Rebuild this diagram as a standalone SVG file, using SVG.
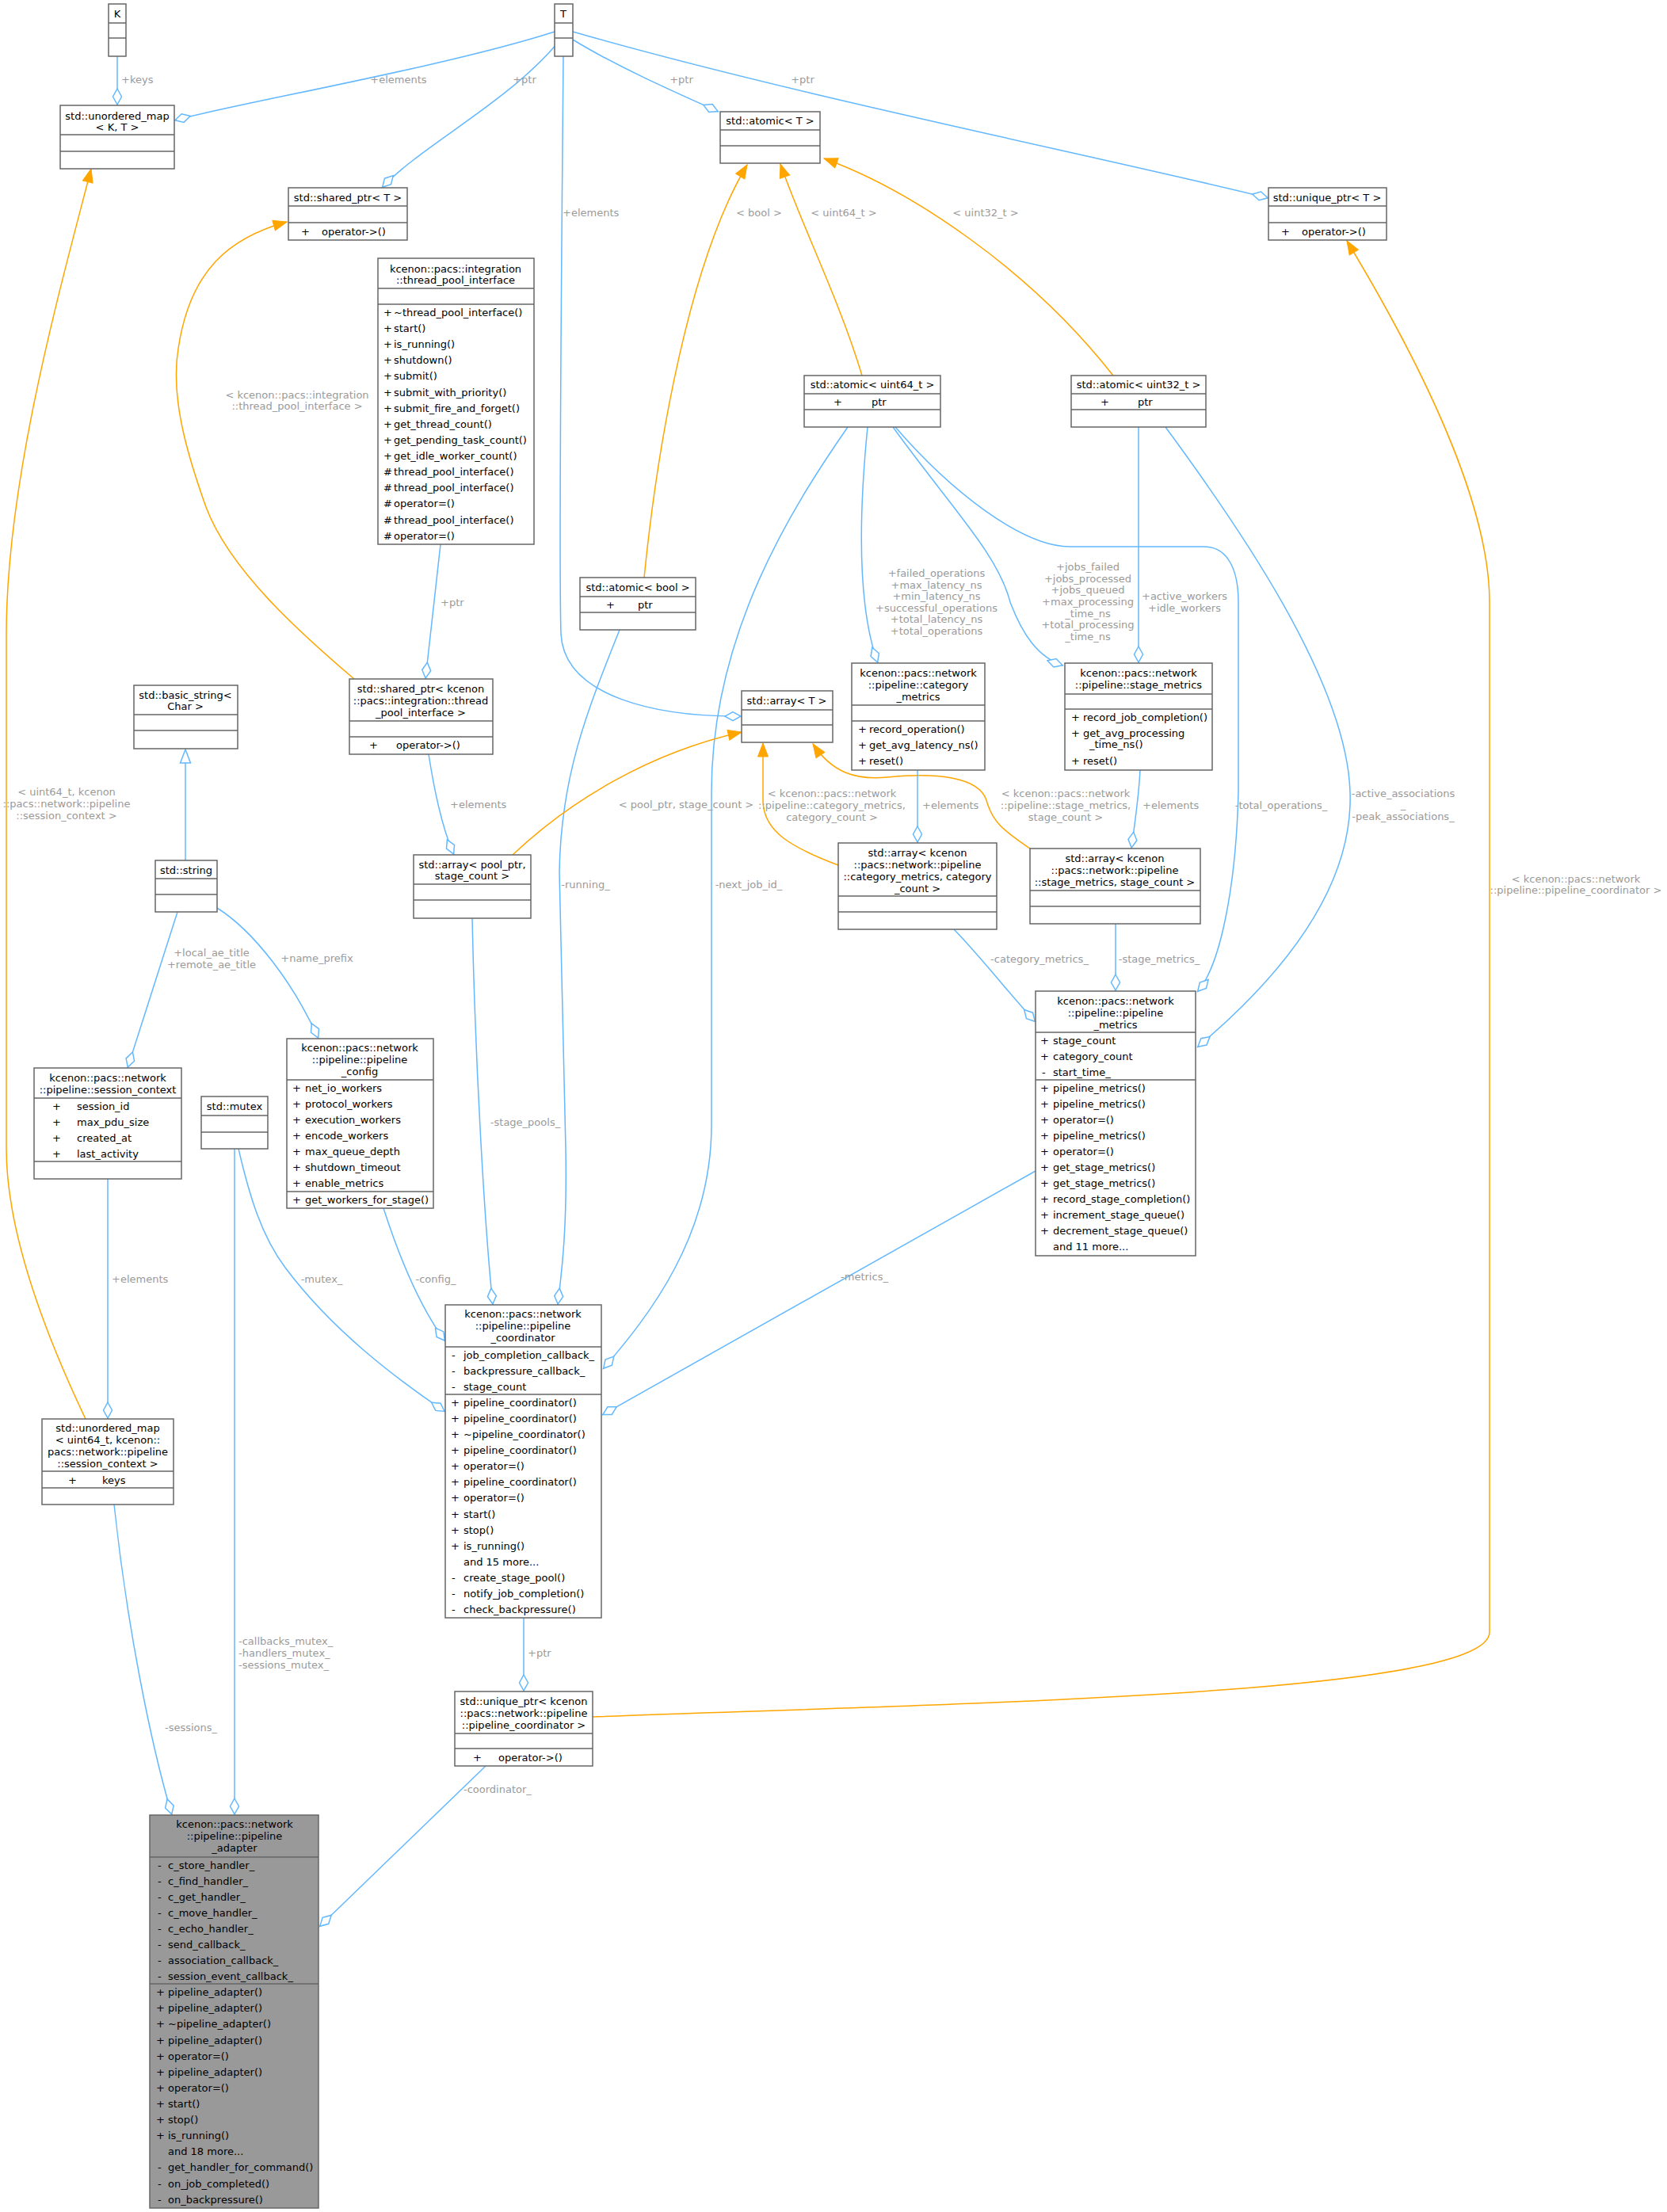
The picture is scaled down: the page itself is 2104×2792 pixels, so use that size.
<svg xmlns="http://www.w3.org/2000/svg" width="2104" height="2792" viewBox="0 0 2104 2792">
<style>
text{font-family:"DejaVu Sans","Liberation Sans",sans-serif;font-size:13px;fill:#000}
.c{text-anchor:middle}
.l{fill:#9a9a9a}
.b{fill:#fff;stroke:#666;stroke-width:1.5}
.g{fill:#999;stroke:#666;stroke-width:1.5}
.d{stroke:#666;stroke-width:1.5}
.e{fill:none;stroke:#63b8ff;stroke-width:1.5}
.o{fill:none;stroke:#ffa500;stroke-width:1.5}
.ag{marker-end:url(#dia)}
.ar{marker-end:url(#tri)}
.ih{marker-end:url(#htri)}
</style>
<defs>
<marker id="dia" markerUnits="userSpaceOnUse" viewBox="-1 -7 23 14" refX="21" refY="0" markerWidth="23" markerHeight="14" orient="auto"><path d="M0,0 L10,-5.5 L20,0 L10,5.5 Z" fill="#fff" stroke="#63b8ff" stroke-width="1.5"/></marker>
<marker id="tri" markerUnits="userSpaceOnUse" viewBox="-1 -8 19 16" refX="17" refY="0" markerWidth="19" markerHeight="16" orient="auto"><path d="M0,-6.5 L17,0 L0,6.5 Z" fill="#ffa500" stroke="#ffa500"/></marker>
<marker id="htri" markerUnits="userSpaceOnUse" viewBox="-1 -8 19 16" refX="17" refY="0" markerWidth="19" markerHeight="16" orient="auto"><path d="M0,-6.5 L17,0 L0,6.5 Z" fill="#fff" stroke="#63b8ff" stroke-width="1.5"/></marker>
</defs>
<rect width="2104" height="2792" fill="#fff"/>
<g id="edges">
<path class="e ag" d="M148,71 L148,133"/>
<path class="e ag" d="M700,40 C560,85 300,130 220,152"/>
<path class="e ag" d="M703,55 C640,130 530,185 482,237"/>
<path class="e ag" d="M723,50 C780,85 860,120 907,141"/>
<path class="e ag" d="M723,40 C1000,120 1400,200 1601,250"/>
<path class="e ag" d="M711,71 C709,300 705,700 708,800 C712,880 830,905 936,904"/>
<path class="o ar" d="M108,1791 C60,1690 8,1560 8,1450 L8,800 C8,600 80,350 115,213"/>
<path class="o ar" d="M447,857 C380,800 290,720 260,640 C235,570 215,500 225,440 C240,340 290,300 362,280"/>
<path class="e ag" d="M556,687 L537,857"/>
<path class="o ar" d="M813,729 C830,560 870,330 943,208"/>
<path class="o ar" d="M1088,474 C1060,380 1010,280 985,207"/>
<path class="o ar" d="M1405,474 C1300,340 1150,240 1040,200"/>
<path class="o ar" d="M748,2167 C1200,2150 1880,2140 1880,2060 L1880,760 C1880,620 1770,420 1700,304"/>
<path class="e ag" d="M1095,539 C1085,640 1080,760 1108,837"/>
<path class="e ag" d="M1127,539 C1200,640 1260,700 1275,760 C1290,800 1310,830 1342,840"/>
<path class="e ag" d="M1130,539 C1200,620 1290,690 1350,690 L1520,690 C1550,690 1563,720 1563,760 L1563,1000 C1560,1120 1540,1220 1511,1252"/>
<path class="e ag" d="M1070,539 C1000,640 898,800 898,1000 L898,1420 C898,1560 820,1660 761,1728"/>
<path class="e ag" d="M1437,539 L1437,837"/>
<path class="e ag" d="M1471,539 C1560,660 1700,860 1704,1000 C1708,1120 1620,1230 1511,1322"/>
<path class="e ag" d="M782,795 C740,900 708,980 706,1100 L714,1450 C716,1560 708,1610 704,1647"/>
<path class="e ag" d="M596,1159 C600,1350 612,1550 622,1647"/>
<path class="e ag" d="M541,952 C550,1010 560,1050 573,1079"/>
<path class="o ar" d="M647,1079 C720,1010 820,950 936,924"/>
<path class="o ar" d="M1058,1092 C1000,1070 963,1050 963,1010 L963,938"/>
<path class="o ar" d="M1300,1071 C1270,1050 1253,1040 1245,1010 C1235,980 1180,975 1120,981 C1080,985 1050,975 1026,939"/>
<path class="e ag" d="M1158,972 L1158,1064"/>
<path class="e ag" d="M1439,972 C1437,1010 1432,1040 1428,1071"/>
<path class="e ag" d="M1204,1173 C1240,1210 1270,1250 1307,1290"/>
<path class="e ag" d="M1408,1166 L1408,1251"/>
<path class="e ag" d="M1307,1478 L760,1786"/>
<path class="e ih" d="M234,1086 L234,946"/>
<path class="e ag" d="M224,1151 L161,1348"/>
<path class="e ag" d="M274,1146 C320,1175 370,1240 402,1311"/>
<path class="e ag" d="M136,1488 L136,1791"/>
<path class="e ag" d="M301,1450 C315,1510 330,1560 360,1600 C420,1680 500,1740 562,1782"/>
<path class="e ag" d="M484,1525 C505,1590 530,1650 562,1693"/>
<path class="e ag" d="M296,1450 L296,2291"/>
<path class="e ag" d="M144,1899 C160,2050 190,2200 217,2291"/>
<path class="e ag" d="M661,2042 L661,2135"/>
<path class="e ag" d="M613,2229 L403,2432"/>
<g class="lbl">
<text class="l" x="153" y="105">+keys</text>
<text class="l c" x="503" y="105">+elements</text>
<text class="l c" x="662" y="105">+ptr</text>
<text class="l c" x="860" y="105">+ptr</text>
<text class="l c" x="1013" y="105">+ptr</text>
<text class="l" x="710" y="273">+elements</text>
<text class="l c" x="958" y="273">&lt; bool &gt;</text>
<text class="l c" x="1065" y="273">&lt; uint64_t &gt;</text>
<text class="l c" x="1244" y="273">&lt; uint32_t &gt;</text>
<text class="l c" x="375" y="503">&lt; kcenon::pacs::integration</text>
<text class="l c" x="375" y="517">::thread_pool_interface &gt;</text>
<text class="l" x="556" y="765">+ptr</text>
<text class="l" x="568" y="1020">+elements</text>
<text class="l c" x="866" y="1020">&lt; pool_ptr, stage_count &gt;</text>
<text class="l c" x="739" y="1121">-running_</text>
<text class="l c" x="945" y="1121">-next_job_id_</text>
<text class="l c" x="84" y="1004">&lt; uint64_t, kcenon</text>
<text class="l c" x="84" y="1019">::pacs::network::pipeline</text>
<text class="l c" x="84" y="1034">::session_context &gt;</text>
<text class="l c" x="267" y="1207">+local_ae_title</text>
<text class="l c" x="267" y="1222">+remote_ae_title</text>
<text class="l c" x="400" y="1214">+name_prefix</text>
<text class="l c" x="663" y="1421">-stage_pools_</text>
<text class="l" x="141" y="1619">+elements</text>
<text class="l c" x="406" y="1619">-mutex_</text>
<text class="l c" x="550" y="1619">-config_</text>
<text class="l c" x="1182" y="728">+failed_operations</text>
<text class="l c" x="1182" y="743">+max_latency_ns</text>
<text class="l c" x="1182" y="757">+min_latency_ns</text>
<text class="l c" x="1182" y="772">+successful_operations</text>
<text class="l c" x="1182" y="786">+total_latency_ns</text>
<text class="l c" x="1182" y="801">+total_operations</text>
<text class="l c" x="1373" y="720">+jobs_failed</text>
<text class="l c" x="1373" y="735">+jobs_processed</text>
<text class="l c" x="1373" y="749">+jobs_queued</text>
<text class="l c" x="1373" y="764">+max_processing</text>
<text class="l c" x="1373" y="779">_time_ns</text>
<text class="l c" x="1373" y="793">+total_processing</text>
<text class="l c" x="1373" y="808">_time_ns</text>
<text class="l c" x="1495" y="757">+active_workers</text>
<text class="l c" x="1495" y="772">+idle_workers</text>
<text class="l c" x="1050" y="1006">&lt; kcenon::pacs::network</text>
<text class="l c" x="1050" y="1021">::pipeline::category_metrics,</text>
<text class="l c" x="1050" y="1036">category_count &gt;</text>
<text class="l" x="1164" y="1021">+elements</text>
<text class="l c" x="1345" y="1006">&lt; kcenon::pacs::network</text>
<text class="l c" x="1345" y="1021">::pipeline::stage_metrics,</text>
<text class="l c" x="1345" y="1036">stage_count &gt;</text>
<text class="l" x="1442" y="1021">+elements</text>
<text class="l c" x="1617" y="1021">-total_operations_</text>
<text class="l c" x="1771" y="1006">-active_associations</text>
<text class="l c" x="1771" y="1020">_</text>
<text class="l c" x="1771" y="1035">-peak_associations_</text>
<text class="l c" x="1989" y="1114">&lt; kcenon::pacs::network</text>
<text class="l c" x="1989" y="1128">::pipeline::pipeline_coordinator &gt;</text>
<text class="l c" x="1312" y="1215">-category_metrics_</text>
<text class="l c" x="1463" y="1215">-stage_metrics_</text>
<text class="l c" x="1091" y="1616">-metrics_</text>
<text class="l" x="301" y="2076">-callbacks_mutex_</text>
<text class="l" x="301" y="2091">-handlers_mutex_</text>
<text class="l" x="301" y="2106">-sessions_mutex_</text>
<text class="l" x="208" y="2185">-sessions_</text>
<text class="l" x="666" y="2091">+ptr</text>
<text class="l" x="585" y="2263">-coordinator_</text>
</g>
</g>
<g id="K"><rect class="b" x="137" y="5" width="22" height="66"/><path class="d" d="M137,29H159M137,48H159"/><text class="c" x="148" y="22">K</text></g>
<g id="T"><rect class="b" x="700" y="5" width="23" height="66"/><path class="d" d="M700,29H723M700,48H723"/><text class="c" x="711" y="22">T</text></g>
<g id="umap_KT"><rect class="b" x="76" y="133" width="144" height="80"/><path class="d" d="M76,170H220M76,191H220"/><text class="c" x="148" y="151">std::unordered_map</text><text class="c" x="148" y="165">&lt; K, T &gt;</text></g>
<g id="shared_ptr_T"><rect class="b" x="364" y="237" width="150" height="66"/><path class="d" d="M364,260H514M364,281H514"/><text class="c" x="439" y="254">std::shared_ptr&lt; T &gt;</text><text x="380" y="297">+</text><text x="406" y="297">operator-&gt;()</text></g>
<g id="atomic_T"><rect class="b" x="909" y="141" width="126" height="65"/><path class="d" d="M909,164H1035M909,184H1035"/><text class="c" x="972" y="157">std::atomic&lt; T &gt;</text></g>
<g id="unique_ptr_T"><rect class="b" x="1601" y="237" width="149" height="66"/><path class="d" d="M1601,260H1750M1601,281H1750"/><text class="c" x="1675" y="254">std::unique_ptr&lt; T &gt;</text><text x="1617" y="297">+</text><text x="1643" y="297">operator-&gt;()</text></g>
<g id="thread_pool_interface"><rect class="b" x="477" y="326" width="197" height="361"/><path class="d" d="M477,364H674M477,384H674"/><text class="c" x="575" y="344">kcenon::pacs::integration</text><text class="c" x="575" y="358">::thread_pool_interface</text>
<text x="484" y="399">+</text><text x="497" y="399">~thread_pool_interface()</text>
<text x="484" y="419">+</text><text x="497" y="419">start()</text>
<text x="484" y="439">+</text><text x="497" y="439">is_running()</text>
<text x="484" y="459">+</text><text x="497" y="459">shutdown()</text>
<text x="484" y="479">+</text><text x="497" y="479">submit()</text>
<text x="484" y="500">+</text><text x="497" y="500">submit_with_priority()</text>
<text x="484" y="520">+</text><text x="497" y="520">submit_fire_and_forget()</text>
<text x="484" y="540">+</text><text x="497" y="540">get_thread_count()</text>
<text x="484" y="560">+</text><text x="497" y="560">get_pending_task_count()</text>
<text x="484" y="580">+</text><text x="497" y="580">get_idle_worker_count()</text>
<text x="484" y="600">#</text><text x="497" y="600">thread_pool_interface()</text>
<text x="484" y="620">#</text><text x="497" y="620">thread_pool_interface()</text>
<text x="484" y="640">#</text><text x="497" y="640">operator=()</text>
<text x="484" y="661">#</text><text x="497" y="661">thread_pool_interface()</text>
<text x="484" y="681">#</text><text x="497" y="681">operator=()</text></g>
<g id="atomic_uint64"><rect class="b" x="1015" y="474" width="172" height="65"/><path class="d" d="M1015,497H1187M1015,517H1187"/><text class="c" x="1101" y="490">std::atomic&lt; uint64_t &gt;</text><text x="1052" y="512">+</text><text x="1100" y="512">ptr</text></g>
<g id="atomic_uint32"><rect class="b" x="1352" y="474" width="170" height="65"/><path class="d" d="M1352,497H1522M1352,517H1522"/><text class="c" x="1437" y="490">std::atomic&lt; uint32_t &gt;</text><text x="1389" y="512">+</text><text x="1436" y="512">ptr</text></g>
<g id="atomic_bool"><rect class="b" x="732" y="729" width="146" height="66"/><path class="d" d="M732,753H878M732,773H878"/><text class="c" x="805" y="746">std::atomic&lt; bool &gt;</text><text x="765" y="768">+</text><text x="805" y="768">ptr</text></g>
<g id="basic_string"><rect class="b" x="169" y="865" width="131" height="80"/><path class="d" d="M169,902H300M169,922H300"/><text class="c" x="234" y="882">std::basic_string&lt;</text><text class="c" x="234" y="896">Char &gt;</text></g>
<g id="shared_ptr_tp"><rect class="b" x="441" y="857" width="181" height="95"/><path class="d" d="M441,910H622M441,930H622"/><text class="c" x="531" y="874">std::shared_ptr&lt; kcenon</text><text class="c" x="531" y="889">::pacs::integration::thread</text><text class="c" x="531" y="904">_pool_interface &gt;</text><text x="466" y="945">+</text><text x="500" y="945">operator-&gt;()</text></g>
<g id="array_T"><rect class="b" x="936" y="872" width="115" height="65"/><path class="d" d="M936,896H1051M936,915H1051"/><text class="c" x="993" y="889">std::array&lt; T &gt;</text></g>
<g id="category_metrics"><rect class="b" x="1075" y="837" width="168" height="135"/><path class="d" d="M1075,890H1243M1075,910H1243"/><text class="c" x="1159" y="854">kcenon::pacs::network</text><text class="c" x="1159" y="869">::pipeline::category</text><text class="c" x="1159" y="884">_metrics</text>
<text x="1083" y="925">+</text><text x="1097" y="925">record_operation()</text>
<text x="1083" y="945">+</text><text x="1097" y="945">get_avg_latency_ns()</text>
<text x="1083" y="965">+</text><text x="1097" y="965">reset()</text></g>
<g id="stage_metrics"><rect class="b" x="1344" y="837" width="186" height="135"/><path class="d" d="M1344,876H1530M1344,895H1530"/><text class="c" x="1437" y="854">kcenon::pacs::network</text><text class="c" x="1437" y="869">::pipeline::stage_metrics</text>
<text x="1352" y="910">+</text><text x="1367" y="910">record_job_completion()</text>
<text x="1352" y="930">+</text><text x="1367" y="930">get_avg_processing</text><text x="1375" y="944">_time_ns()</text>
<text x="1352" y="965">+</text><text x="1367" y="965">reset()</text></g>
<g id="array_category"><rect class="b" x="1058" y="1064" width="200" height="109"/><path class="d" d="M1058,1131H1258M1058,1151H1258"/><text class="c" x="1158" y="1081">std::array&lt; kcenon</text><text class="c" x="1158" y="1096">::pacs::network::pipeline</text><text class="c" x="1158" y="1111">::category_metrics, category</text><text class="c" x="1158" y="1126">_count &gt;</text></g>
<g id="array_stage"><rect class="b" x="1300" y="1071" width="215" height="95"/><path class="d" d="M1300,1124H1515M1300,1144H1515"/><text class="c" x="1407" y="1088">std::array&lt; kcenon</text><text class="c" x="1407" y="1103">::pacs::network::pipeline</text><text class="c" x="1407" y="1118">::stage_metrics, stage_count &gt;</text></g>
<g id="std_string"><rect class="b" x="196" y="1086" width="78" height="65"/><path class="d" d="M196,1109H274M196,1129H274"/><text class="c" x="235" y="1103">std::string</text></g>
<g id="array_pool"><rect class="b" x="522" y="1079" width="148" height="80"/><path class="d" d="M522,1116H670M522,1136H670"/><text class="c" x="596" y="1096">std::array&lt; pool_ptr,</text><text class="c" x="596" y="1110">stage_count &gt;</text></g>
<g id="session_context"><rect class="b" x="43" y="1348" width="186" height="140"/><path class="d" d="M43,1386H229M43,1466H229"/><text class="c" x="136" y="1365">kcenon::pacs::network</text><text class="c" x="136" y="1380">::pipeline::session_context</text>
<text x="66" y="1401">+</text><text x="97" y="1401">session_id</text>
<text x="66" y="1421">+</text><text x="97" y="1421">max_pdu_size</text>
<text x="66" y="1441">+</text><text x="97" y="1441">created_at</text>
<text x="66" y="1461">+</text><text x="97" y="1461">last_activity</text></g>
<g id="std_mutex"><rect class="b" x="254" y="1384" width="84" height="66"/><path class="d" d="M254,1408H338M254,1429H338"/><text class="c" x="296" y="1401">std::mutex</text></g>
<g id="pipeline_config"><rect class="b" x="362" y="1311" width="185" height="214"/><path class="d" d="M362,1363H547M362,1504H547"/><text class="c" x="454" y="1327">kcenon::pacs::network</text><text class="c" x="454" y="1342">::pipeline::pipeline</text><text class="c" x="454" y="1357">_config</text>
<text x="369" y="1378">+</text><text x="385" y="1378">net_io_workers</text>
<text x="369" y="1398">+</text><text x="385" y="1398">protocol_workers</text>
<text x="369" y="1418">+</text><text x="385" y="1418">execution_workers</text>
<text x="369" y="1438">+</text><text x="385" y="1438">encode_workers</text>
<text x="369" y="1458">+</text><text x="385" y="1458">max_queue_depth</text>
<text x="369" y="1478">+</text><text x="385" y="1478">shutdown_timeout</text>
<text x="369" y="1498">+</text><text x="385" y="1498">enable_metrics</text>
<text x="369" y="1519">+</text><text x="385" y="1519">get_workers_for_stage()</text></g>
<g id="pipeline_coordinator"><rect class="b" x="562" y="1647" width="197" height="395"/><path class="d" d="M562,1700H759M562,1760H759"/><text class="c" x="660" y="1663">kcenon::pacs::network</text><text class="c" x="660" y="1678">::pipeline::pipeline</text><text class="c" x="660" y="1693">_coordinator</text>
<text x="570" y="1715">-</text><text x="585" y="1715">job_completion_callback_</text>
<text x="570" y="1735">-</text><text x="585" y="1735">backpressure_callback_</text>
<text x="570" y="1755">-</text><text x="585" y="1755">stage_count</text>
<text x="569" y="1775">+</text><text x="585" y="1775">pipeline_coordinator()</text>
<text x="569" y="1795">+</text><text x="585" y="1795">pipeline_coordinator()</text>
<text x="569" y="1815">+</text><text x="585" y="1815">~pipeline_coordinator()</text>
<text x="569" y="1835">+</text><text x="585" y="1835">pipeline_coordinator()</text>
<text x="569" y="1855">+</text><text x="585" y="1855">operator=()</text>
<text x="569" y="1875">+</text><text x="585" y="1875">pipeline_coordinator()</text>
<text x="569" y="1895">+</text><text x="585" y="1895">operator=()</text>
<text x="569" y="1916">+</text><text x="585" y="1916">start()</text>
<text x="569" y="1936">+</text><text x="585" y="1936">stop()</text>
<text x="569" y="1956">+</text><text x="585" y="1956">is_running()</text>
<text x="585" y="1976">and 15 more...</text>
<text x="570" y="1996">-</text><text x="585" y="1996">create_stage_pool()</text>
<text x="570" y="2016">-</text><text x="585" y="2016">notify_job_completion()</text>
<text x="570" y="2036">-</text><text x="585" y="2036">check_backpressure()</text></g>
<g id="umap_u64"><rect class="b" x="53" y="1791" width="166" height="108"/><path class="d" d="M53,1857H219M53,1878H219"/><text class="c" x="136" y="1807">std::unordered_map</text><text class="c" x="136" y="1822">&lt; uint64_t, kcenon::</text><text class="c" x="136" y="1837">pacs::network::pipeline</text><text class="c" x="136" y="1852">::session_context &gt;</text><text x="86" y="1873">+</text><text x="129" y="1873">keys</text></g>
<g id="pipeline_metrics"><rect class="b" x="1307" y="1251" width="202" height="334"/><path class="d" d="M1307,1303H1509M1307,1363H1509"/><text class="c" x="1408" y="1268">kcenon::pacs::network</text><text class="c" x="1408" y="1283">::pipeline::pipeline</text><text class="c" x="1408" y="1298">_metrics</text>
<text x="1313" y="1318">+</text><text x="1329" y="1318">stage_count</text>
<text x="1313" y="1338">+</text><text x="1329" y="1338">category_count</text>
<text x="1315" y="1358">-</text><text x="1329" y="1358">start_time_</text>
<text x="1313" y="1378">+</text><text x="1329" y="1378">pipeline_metrics()</text>
<text x="1313" y="1398">+</text><text x="1329" y="1398">pipeline_metrics()</text>
<text x="1313" y="1418">+</text><text x="1329" y="1418">operator=()</text>
<text x="1313" y="1438">+</text><text x="1329" y="1438">pipeline_metrics()</text>
<text x="1313" y="1458">+</text><text x="1329" y="1458">operator=()</text>
<text x="1313" y="1478">+</text><text x="1329" y="1478">get_stage_metrics()</text>
<text x="1313" y="1498">+</text><text x="1329" y="1498">get_stage_metrics()</text>
<text x="1313" y="1518">+</text><text x="1329" y="1518">record_stage_completion()</text>
<text x="1313" y="1538">+</text><text x="1329" y="1538">increment_stage_queue()</text>
<text x="1313" y="1558">+</text><text x="1329" y="1558">decrement_stage_queue()</text>
<text x="1329" y="1578">and 11 more...</text></g>
<g id="unique_ptr_coord"><rect class="b" x="574" y="2135" width="174" height="94"/><path class="d" d="M574,2188H748M574,2207H748"/><text class="c" x="661" y="2152">std::unique_ptr&lt; kcenon</text><text class="c" x="661" y="2167">::pacs::network::pipeline</text><text class="c" x="661" y="2182">::pipeline_coordinator &gt;</text><text x="597" y="2223">+</text><text x="629" y="2223">operator-&gt;()</text></g>
<g id="pipeline_adapter"><rect class="g" x="189" y="2291" width="213" height="496"/><path class="d" d="M189,2344H402M189,2504H402"/><text class="c" x="296" y="2307">kcenon::pacs::network</text><text class="c" x="296" y="2322">::pipeline::pipeline</text><text class="c" x="296" y="2337">_adapter</text>
<text x="199" y="2359">-</text><text x="212" y="2359">c_store_handler_</text>
<text x="199" y="2379">-</text><text x="212" y="2379">c_find_handler_</text>
<text x="199" y="2399">-</text><text x="212" y="2399">c_get_handler_</text>
<text x="199" y="2419">-</text><text x="212" y="2419">c_move_handler_</text>
<text x="199" y="2439">-</text><text x="212" y="2439">c_echo_handler_</text>
<text x="199" y="2459">-</text><text x="212" y="2459">send_callback_</text>
<text x="199" y="2479">-</text><text x="212" y="2479">association_callback_</text>
<text x="199" y="2499">-</text><text x="212" y="2499">session_event_callback_</text>
<text x="197" y="2519">+</text><text x="212" y="2519">pipeline_adapter()</text>
<text x="197" y="2539">+</text><text x="212" y="2539">pipeline_adapter()</text>
<text x="197" y="2559">+</text><text x="212" y="2559">~pipeline_adapter()</text>
<text x="197" y="2580">+</text><text x="212" y="2580">pipeline_adapter()</text>
<text x="197" y="2600">+</text><text x="212" y="2600">operator=()</text>
<text x="197" y="2620">+</text><text x="212" y="2620">pipeline_adapter()</text>
<text x="197" y="2640">+</text><text x="212" y="2640">operator=()</text>
<text x="197" y="2660">+</text><text x="212" y="2660">start()</text>
<text x="197" y="2680">+</text><text x="212" y="2680">stop()</text>
<text x="197" y="2700">+</text><text x="212" y="2700">is_running()</text>
<text x="212" y="2720">and 18 more...</text>
<text x="199" y="2740">-</text><text x="212" y="2740">get_handler_for_command()</text>
<text x="199" y="2761">-</text><text x="212" y="2761">on_job_completed()</text>
<text x="199" y="2781">-</text><text x="212" y="2781">on_backpressure()</text></g>
</svg>
